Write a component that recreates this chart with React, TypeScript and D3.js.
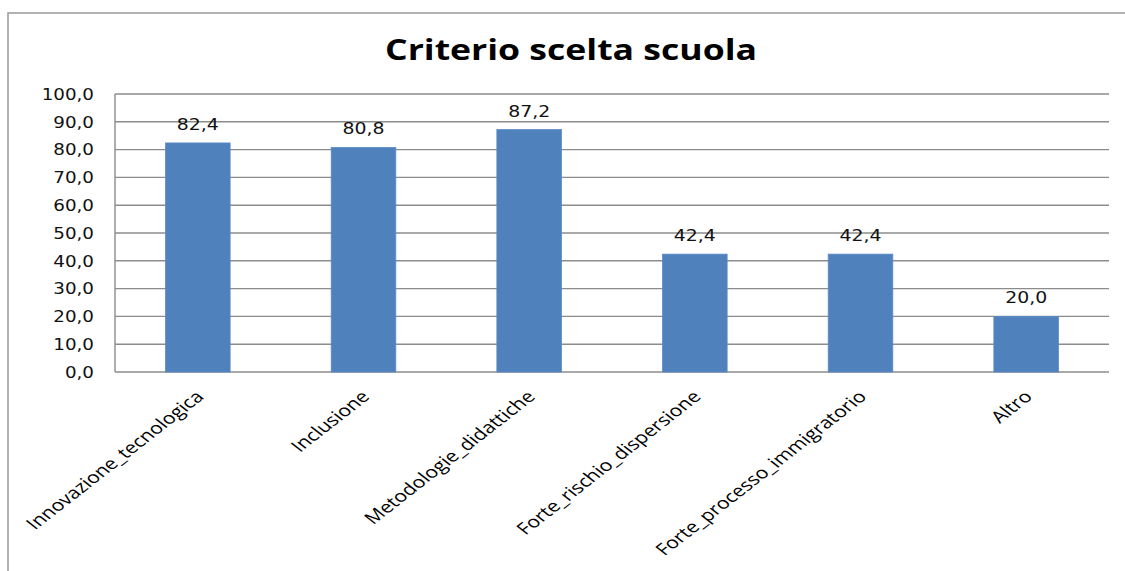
import React from "react";
import * as d3 from "d3";

const categories = [
  "Innovazione_tecnologica",
  "Inclusione",
  "Metodologie_didattiche",
  "Forte_rischio_dispersione",
  "Forte_processo_immigratorio",
  "Altro",
];
const values = [82.4, 80.8, 87.2, 42.4, 42.4, 20.0];
const yTicks = [0, 10, 20, 30, 40, 50, 60, 70, 80, 90, 100];
const title = "Criterio scelta scuola";

const W = 1125;
const H = 571;
const plot = { left: 115, right: 1109, top: 94, bottom: 372 };
const SX = 1.18;
const SX_CAT = 1.28;

const fmt = (v: number) => v.toFixed(1).replace(".", ",");

export default function App() {
  const x = d3
    .scaleBand<string>()
    .domain(categories)
    .range([plot.left, plot.right])
    .paddingInner(0.61)
    .paddingOuter(0.305);
  const y = d3.scaleLinear().domain([0, 100]).range([plot.bottom, plot.top]);
  const gridColor = "#8c8c8c";

  return (
    <svg
      width={W}
      height={H}
      style={{ position: "absolute", left: 0, top: 0, background: "#fff" }}
    >
      <rect x={0} y={0} width={W} height={H} fill="#fff" />
      <rect x={8} y={13} width={W + 20} height={H + 20} fill="none" stroke="#999" strokeWidth={1.5} />
      <text
        x={571}
        y={60}
        textAnchor="middle"
        fontFamily="'Open Sans', sans-serif"
        fontWeight="bold"
        fontSize={29}
        textLength={372}
        lengthAdjust="spacingAndGlyphs"
        fill="#000"
      >
        {title}
      </text>
      {yTicks.map((t) => (
        <line
          key={"g" + t}
          x1={plot.left}
          x2={plot.right}
          y1={y(t)}
          y2={y(t)}
          stroke={gridColor}
          strokeWidth={1.4}
        />
      ))}
      <line x1={plot.left} x2={plot.left} y1={plot.top} y2={plot.bottom} stroke={gridColor} strokeWidth={1.4} />
      {yTicks.map((t) => (
        <g key={"t" + t} transform={`translate(94,${y(t) + 5.8}) scale(${SX},1)`}>
          <text textAnchor="end" fontFamily="'DejaVu Sans', sans-serif" fontSize={15.5} fill="#111">
            {fmt(t)}
          </text>
        </g>
      ))}
      {categories.map((c, i) => (
        <rect
          key={"b" + c}
          x={x(c)}
          y={y(values[i])}
          width={x.bandwidth()}
          height={plot.bottom - y(values[i])}
          fill="#4f81bd"
          stroke="#5b8bc6"
          strokeWidth={0.8}
        />
      ))}
      {categories.map((c, i) => (
        <g
          key={"v" + c}
          transform={`translate(${(x(c) as number) + x.bandwidth() / 2},${y(values[i]) - 13}) scale(${SX},1)`}
        >
          <text textAnchor="middle" fontFamily="'DejaVu Sans', sans-serif" fontSize={16} fill="#111">
            {fmt(values[i])}
          </text>
        </g>
      ))}
      {categories.map((c) => (
        <g
          key={"c" + c}
          transform={`translate(${(x(c) as number) + x.bandwidth() / 2 - 4},${plot.bottom + 17}) scale(${SX_CAT},1) rotate(-45)`}
        >
          <text textAnchor="end" dy="0.75em" fontFamily="'Open Sans', sans-serif" fontSize={16.5} fill="#000">
            {c}
          </text>
        </g>
      ))}
    </svg>
  );
}
